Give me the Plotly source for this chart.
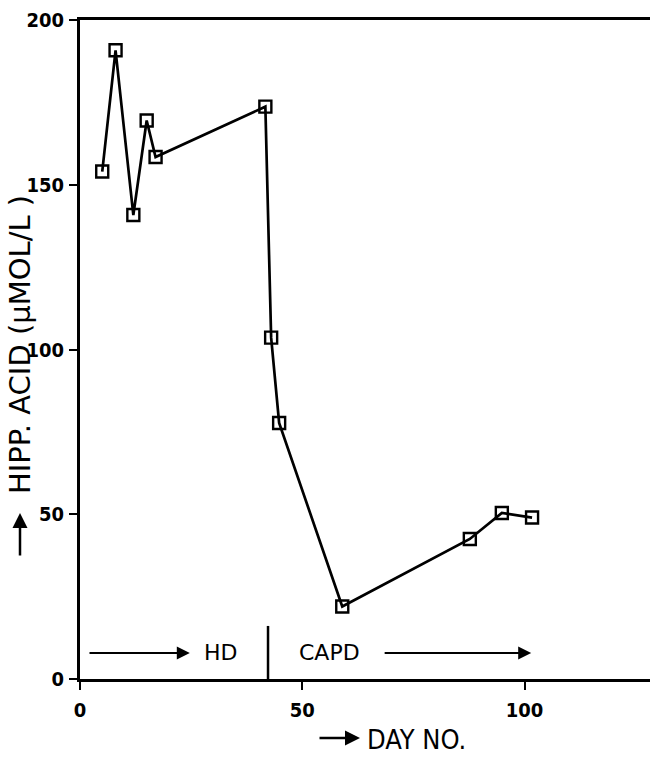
import plotly.graph_objects as go

# Data
days = [5, 8, 12, 15, 17, 41.7, 43, 44.8, 59, 87.7, 94.9, 101.7]
hipp = [154, 190.8, 140.8, 169.5, 158.4, 173.7, 103.6, 77.7, 22, 42.5, 50.4, 49]

x_ticks = [0, 50, 100]
y_ticks = [0, 50, 100, 150, 200]

switch_day = 42.3

W, H = 650, 761
L, R, T, B = 80, 0, 20, 82
pw = W - L - R
ph = H - T - B
x_max = pw / 4.445

narrow = "'Liberation Sans Narrow', 'DejaVu Sans Condensed', 'Arial Narrow', sans-serif"
num_font = dict(family=narrow, size=20, color="black", weight="bold")
wide_font = "'DejaVu Sans', Verdana, sans-serif"

fig = go.Figure()
fig.add_trace(go.Scatter(
    x=days, y=hipp, mode="lines+markers",
    line=dict(color="black", width=2.7),
    marker=dict(symbol="square-open", size=12, color="black", line=dict(width=2.4, color="black")),
    showlegend=False, cliponaxis=False,
))

fig.add_shape(type="line", xref="x", yref="y", x0=switch_day, x1=switch_day, y0=0, y1=16.1,
              line=dict(color="black", width=2.5))

ann = []
ann.append(dict(x=24.7, y=7.9, ax=1.8, ay=7.9, xref="x", yref="y", axref="x", ayref="y",
                showarrow=True, arrowhead=2, arrowsize=1.3, arrowwidth=2, arrowcolor="black", text=""))
ann.append(dict(x=31.7, y=7.9, xref="x", yref="y", text="HD", showarrow=False,
                font=dict(family=wide_font, size=22, color="black")))
ann.append(dict(x=56.2, y=7.9, xref="x", yref="y", text="CAPD", showarrow=False,
                font=dict(family=wide_font, size=22, color="black")))
ann.append(dict(x=101.5, y=7.9, ax=68.2, ay=7.9, xref="x", yref="y", axref="x", ayref="y",
                showarrow=True, arrowhead=2, arrowsize=1.3, arrowwidth=2, arrowcolor="black", text=""))
# y label arrow
ann.append(dict(x=(20 - L) / pw, y=(T + ph - 513) / ph, xref="paper", yref="paper",
                ax=0, ay=44, showarrow=True, arrowhead=2, arrowsize=1.2, arrowwidth=2.5,
                arrowcolor="black", text=""))
# y label text
ann.append(dict(x=(20 - L) / pw, y=(T + ph - 345) / ph, xref="paper", yref="paper",
                xanchor="center", yanchor="middle",
                text="HIPP. ACID (µMOL/L )", textangle=-90, showarrow=False,
                font=dict(family=wide_font, size=29, color="black")))
# x label arrow
ann.append(dict(x=(360 - L) / pw, y=(T + ph - 738) / ph, xref="paper", yref="paper",
                ax=-42, ay=0, showarrow=True, arrowhead=2, arrowsize=1.2, arrowwidth=2.5,
                arrowcolor="black", text=""))
ann.append(dict(x=(365 - L) / pw, y=(T + ph - 740) / ph, xref="paper", yref="paper",
                xanchor="left", yanchor="middle", text="DAY NO.", showarrow=False,
                font=dict(family=narrow, size=27, color="black")))

fig.update_layout(
    width=W, height=H,
    margin=dict(l=L, r=R, t=T, b=B, pad=0),
    paper_bgcolor="white", plot_bgcolor="white",
    annotations=ann,
    xaxis=dict(range=[0, x_max], tickvals=x_ticks, ticktext=[str(v) for v in x_ticks],
               showgrid=False, zeroline=False, showline=True, linecolor="black", linewidth=3,
               mirror=True, ticks="outside", ticklen=8, tickwidth=2, tickcolor="black",
               tickfont=num_font, ticklabelstandoff=3),
    yaxis=dict(range=[0, 200], tickvals=y_ticks, ticktext=[str(v) for v in y_ticks],
               showgrid=False, zeroline=False, showline=True, linecolor="black", linewidth=3,
               ticks="outside", ticklen=8, tickwidth=2, tickcolor="black",
               tickfont=num_font, ticklabelstandoff=1),
)

fig.write_html("out.html")
